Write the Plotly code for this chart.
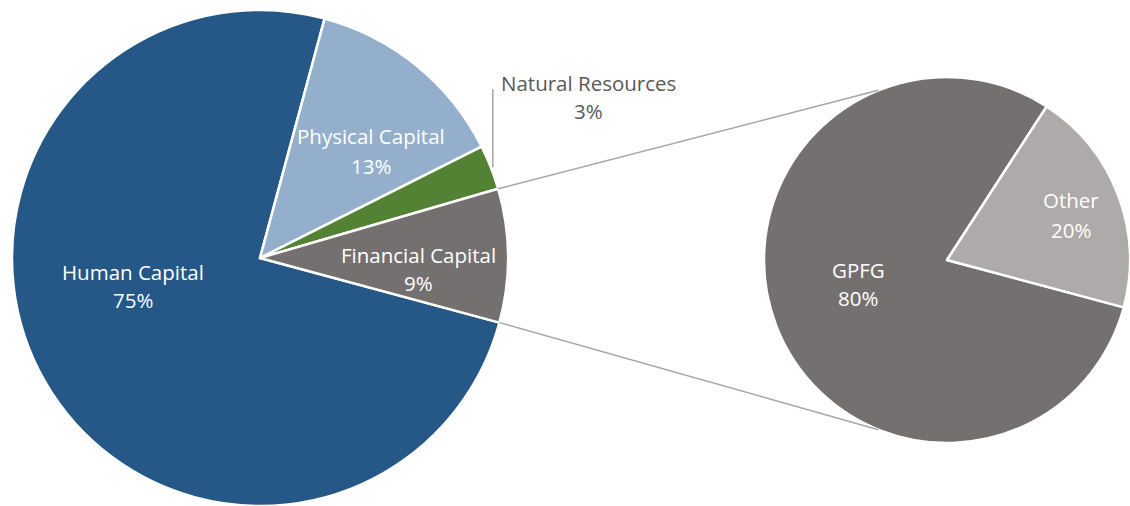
import math
import plotly.graph_objects as go

# ---------------- data ----------------
main_labels = ["Human Capital", "Physical Capital", "Natural Resources", "Financial Capital"]
main_values = [75.0, 13.4, 2.9, 8.7]
main_colors = ["#255787", "#93AFCC", "#548235", "#757070"]

sub_labels = ["GPFG", "Other"]
sub_values = [80.0, 20.0]
sub_colors = ["#757070", "#AEAAAA"]

# ---------------- layout geometry (screen pixels) ----------------
W, H = 1130, 506
main_c, main_r = (260, 258), 248
sub_c, sub_r = (947, 260), 183
main_rotation = 105.1        # start angle of first slice, clockwise from 12 o'clock
sub_rotation = 105.0

# label centres (pixels): x, name line y, percentage line y
label_pos = {
    "Human Capital": (133, 272, 300),
    "Physical Capital": (371, 136, 166),
    "Natural Resources": (588, 83, 111),
    "Financial Capital": (418, 255, 283),
    "GPFG": (858, 270, 298),
    "Other": (1071, 200, 230),
}
outside_labels = {"Natural Resources"}

FONT = "Open Sans"
FSIZE = 20.5


def px(x):
    return x / W


def py(y):
    return 1 - y / H


def dom(c, r):
    x0, x1 = px(c[0] - r), px(c[0] + r)
    y0, y1 = py(c[1] + r), py(c[1] - r)
    return dict(x=[max(0, x0), min(1, x1)], y=[max(0, y0), min(1, y1)])


def arc_point(c, r, ang):
    a = math.radians(ang)
    return c[0] + r * math.sin(a), c[1] - r * math.cos(a)


def slice_bounds(values, rotation):
    tot = sum(values)
    out, a = [], rotation
    for v in values:
        b = a + 360 * v / tot
        out.append((a, b))
        a = b
    return out


fig = go.Figure()
fig.add_trace(go.Pie(
    labels=main_labels, values=main_values, sort=False, direction="clockwise",
    rotation=main_rotation, marker=dict(colors=main_colors, line=dict(color="white", width=2.5)),
    textinfo="none", domain=dom(main_c, main_r), showlegend=False,
))
fig.add_trace(go.Pie(
    labels=sub_labels, values=sub_values, sort=False, direction="clockwise",
    rotation=sub_rotation, marker=dict(colors=sub_colors, line=dict(color="white", width=2.5)),
    textinfo="none", domain=dom(sub_c, sub_r), showlegend=False,
))

# connector lines between the financial-capital slice and the secondary pie
mb = slice_bounds(main_values, main_rotation)
fin = mb[main_labels.index("Financial Capital")]
p_top = arc_point(main_c, main_r, fin[0])
p_bot = arc_point(main_c, main_r, fin[1])
q_top = arc_point(sub_c, sub_r, 338)
q_bot = arc_point(sub_c, sub_r, 202)
line_style = dict(color="#A6A6A6", width=1.5)
for p, q in ((p_top, q_top), (p_bot, q_bot)):
    fig.add_shape(type="line", xref="paper", yref="paper",
                  x0=px(p[0]), y0=py(p[1]), x1=px(q[0]), y1=py(q[1]), line=line_style)

# leader line for Natural Resources
nat = mb[main_labels.index("Natural Resources")]
pn = arc_point(main_c, main_r, (nat[0] + nat[1]) / 2)
fig.add_shape(type="line", xref="paper", yref="paper",
              x0=px(pn[0] + 2), y0=py(pn[1]), x1=px(pn[0] + 2), y1=py(89), line=line_style)

# data labels
for labels, values in ((main_labels, main_values), (sub_labels, sub_values)):
    tot = sum(values)
    for lab, v in zip(labels, values):
        x, y1, y2 = label_pos[lab]
        col = "#595959" if lab in outside_labels else "white"
        for txt, yy in ((lab, y1), (f"{round(100 * v / tot)}%", y2)):
            fig.add_annotation(x=px(x), y=py(yy), xref="paper", yref="paper", text=txt,
                               showarrow=False, xanchor="center", yanchor="middle",
                               font=dict(family=FONT, size=FSIZE, color=col))

fig.update_layout(width=W, height=H, margin=dict(l=0, r=0, t=0, b=0),
                  paper_bgcolor="white", plot_bgcolor="white")
fig.write_html("out.html", config={"displayModeBar": False},
               post_script="document.body.style.margin='0';")
